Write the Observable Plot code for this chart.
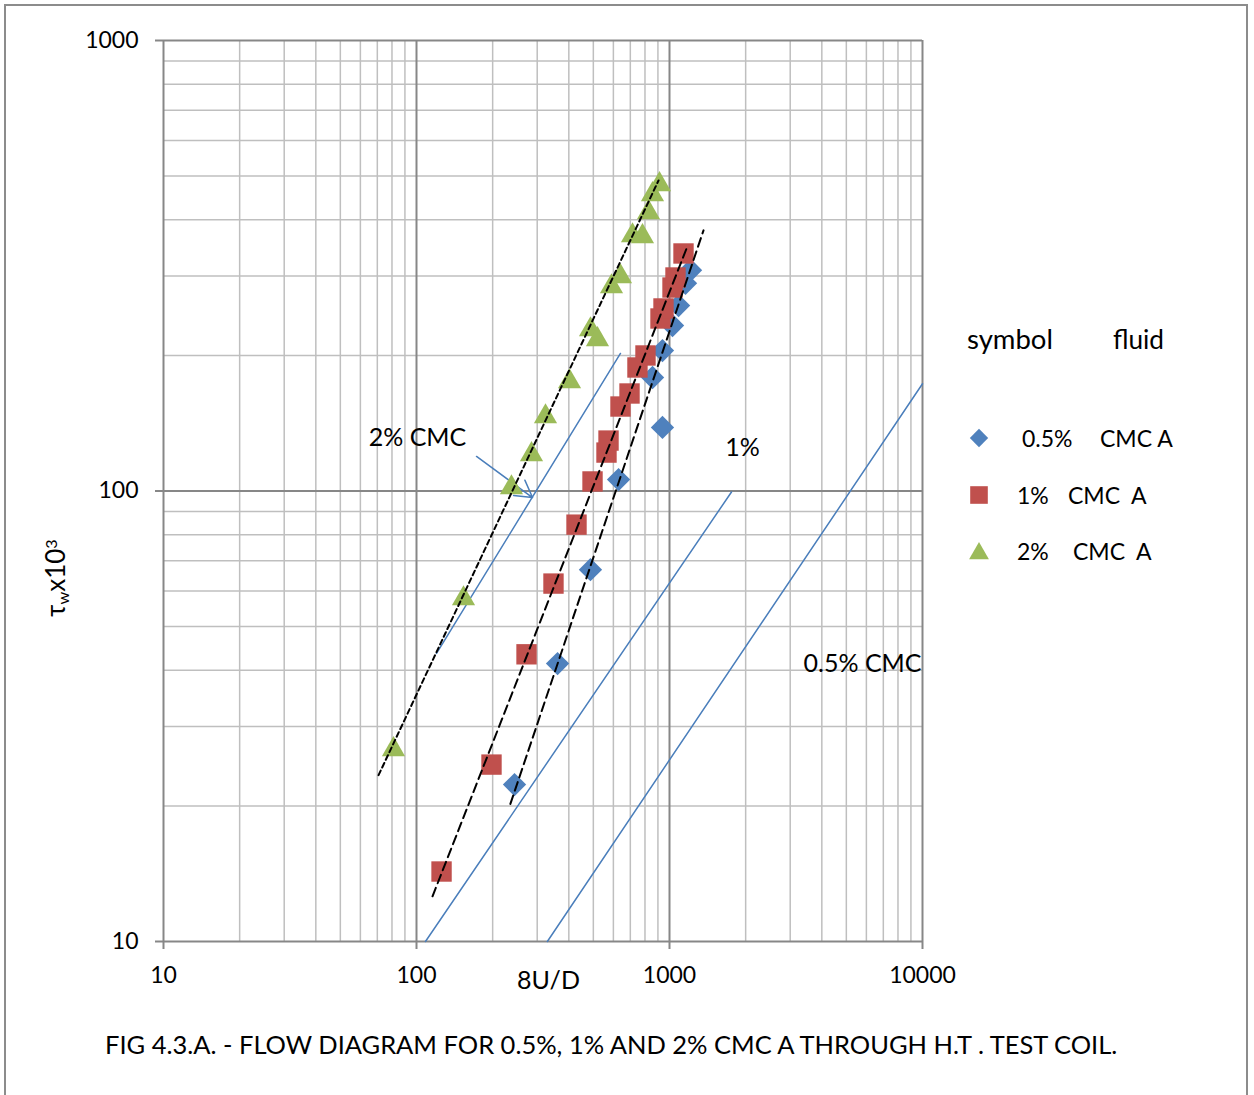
<!DOCTYPE html>
<html>
<head>
<meta charset="utf-8">
<script src="https://cdn.jsdelivr.net/npm/d3@7"></script>
<script src="https://cdn.jsdelivr.net/npm/@observablehq/plot@0.6"></script>
<style>
  body { margin: 0; background: #fff; font-family: Lato, "Open Sans", sans-serif; color: #000; }
  #wrap { position: relative; width: 1254px; height: 1095px; overflow: hidden; background: #fff; }
  #border { position: absolute; left: 4px; top: 4px; width: 1244px; height: 1200px; border: 2px solid #8c8c8c; box-sizing: border-box; }
  #chart { position: absolute; left: 0; top: 0; }
  .t { position: absolute; white-space: pre; line-height: 1; transform: translateY(-50%); }
  .ylab { position: absolute; left: 57px; top: 578px; white-space: pre; line-height: 1; font-size: 26px;
          transform: translate(-50%, -50%) rotate(-90deg); }
  .ylab sub { font-size: 0.62em; vertical-align: -0.25em; }
  .ylab sup { font-size: 0.62em; vertical-align: 0.55em; }
  .sym { position: absolute; }
</style>
</head>
<body>
<div id="wrap">
  <div id="border"></div>
  <div id="chart"></div>
</div>
<script>
// Flow curves in the H.T. test coil: wall shear stress (τw×10³) against 8U/D.

// 0.5% CMC A
const cmc05X = [244, 361, 487, 629, 857, 938, 938, 1028, 1086, 1157, 1211];
const cmc05Y = [22.3, 41.4, 66.9, 106, 178.6, 138.4, 205, 233, 258, 289, 309];

// 1% CMC A
const cmc1X = [125.6, 197.9, 272.2, 347.9, 429, 496.3, 563.6, 574.1, 640.2, 695, 747.1, 803.7, 921.4, 946.9, 1027.8, 1056.1, 1136];
const cmc1Y = [14.3, 24.7, 43.4, 62.3, 84.2, 105, 121.7, 129.4, 154, 164.6, 188, 199.9, 241.5, 254.2, 282.9, 297.8, 336.7];

// 2% CMC A
const cmc2X = [81.1, 153.4, 237.3, 284.8, 323.5, 402.6, 487.3, 519.2, 590, 640.2, 714, 782, 826, 856.6, 913];
const cmc2Y = [27.1, 58.6, 103.3, 122.4, 148.6, 177.7, 231.8, 220.3, 288.8, 303.9, 374.8, 372.9, 421.6, 462.2, 486.5];

// fitted power-law lines through each data set (end points)
const fit05X = [235, 1363], fit05Y = [20.2, 379];
const fit1X = [115.7, 1167], fit1Y = [12.6, 345];
const fit2X = [70.8, 905], fit2Y = [23.4, 489];

// reference flow curves (end points)
const ref2X = [120, 640], ref2Y = [43.6, 202];
const ref1X = [108.5, 1758], ref1Y = [10, 99.5];
const ref05X = [329, 10000], ref05Y = [10, 173];

// curve labels
const noteText = ["2% CMC", "1%", "0.5% CMC"];
const noteX = [100.9, 1944, 5794];
const noteY = [130.8, 124.3, 41.4];

// pointer from the "2% CMC" label to its curve
const arrowX1 = [172.7], arrowY1 = [119.3], arrowX2 = [287.4], arrowY2 = [96.7];

// axis ticks and grid
const xMajor = [10, 100, 1000, 10000];
const yMajor = [10, 100, 1000];
const xMinor = [20, 30, 40, 50, 60, 70, 80, 90, 200, 300, 400, 500, 600, 700, 800, 900, 2000, 3000, 4000, 5000, 6000, 7000, 8000, 9000];
const yMinor = [20, 30, 40, 50, 60, 70, 80, 90, 200, 300, 400, 500, 600, 700, 800, 900];

// legend
const legendLabels = ["0.5%", "1%", "2%"];

const BLUE = "#4f81bd", RED = "#c0504d", GREEN = "#9bbb59", LINE = "#4a7ebb";

const pts = (xs, ys) => xs.map((x, i) => ({x, y: ys[i]}));
const fmt = d3.format("d");

const chart = Plot.plot({
  width: 1254,
  height: 1095,
  marginLeft: 163,
  marginRight: 332,
  marginTop: 40,
  marginBottom: 154,
  x: {type: "log", domain: [10, 10000]},
  y: {type: "log", domain: [10, 1000]},
  style: {fontFamily: "Lato, sans-serif", fontSize: "22px", background: "transparent", overflow: "visible"},
  marks: [
    Plot.ruleX(xMinor, {stroke: "#bfbfbf", strokeWidth: 1.5}),
    Plot.ruleY(yMinor, {stroke: "#bfbfbf", strokeWidth: 1.5}),
    Plot.ruleX(xMajor, {stroke: "#878787", strokeWidth: 2}),
    Plot.ruleY(yMajor, {stroke: "#878787", strokeWidth: 2}),
    Plot.axisX({ticks: xMajor, tickFormat: fmt, tickSize: 8, tickPadding: 17, stroke: "#878787", strokeWidth: 2, fill: "#000", fontSize: 23, label: null}),
    Plot.axisY({ticks: yMajor, tickFormat: fmt, tickSize: 8, tickPadding: 17, stroke: "#878787", strokeWidth: 2, fill: "#000", fontSize: 23, label: null}),

    // reference curves
    Plot.line(pts(ref2X, ref2Y), {x: "x", y: "y", stroke: LINE, strokeWidth: 1.5}),
    Plot.line(pts(ref1X, ref1Y), {x: "x", y: "y", stroke: LINE, strokeWidth: 1.5}),
    Plot.line(pts(ref05X, ref05Y), {x: "x", y: "y", stroke: LINE, strokeWidth: 1.5}),
    Plot.arrow([0], {
      x1: () => arrowX1[0], y1: () => arrowY1[0], x2: () => arrowX2[0], y2: () => arrowY2[0],
      stroke: LINE, strokeWidth: 1.5, headAngle: 60, headLength: 19
    }),

    // measured points
    Plot.dot(pts(cmc05X, cmc05Y), {x: "x", y: "y", symbol: "diamond2", r: 10.5, fill: BLUE}),
    Plot.dot(pts(cmc1X, cmc1Y), {x: "x", y: "y", symbol: "square", r: 11.5, fill: RED}),
    Plot.dot(pts(cmc2X, cmc2Y), {x: "x", y: "y", symbol: "triangle", r: 8.6, dy: 3, fill: GREEN}),

    // fitted lines
    Plot.line(pts(fit2X, fit2Y), {x: "x", y: "y", stroke: "#000", strokeWidth: 2, strokeDasharray: "5,3.5"}),
    Plot.line(pts(fit1X, fit1Y), {x: "x", y: "y", stroke: "#000", strokeWidth: 2, strokeDasharray: "9,5"}),
    Plot.line(pts(fit05X, fit05Y), {x: "x", y: "y", stroke: "#000", strokeWidth: 2, strokeDasharray: "9,5"}),

    // curve labels
    Plot.text(noteText, {x: (d, i) => noteX[i], y: (d, i) => noteY[i], text: d => d, fontSize: 25, fill: "#000", textAnchor: "middle"})
  ]
});
document.getElementById("chart").appendChild(chart);

const wrap = document.getElementById("wrap");
function addText(str, left, cy, size, width) {
  const el = document.createElement("div");
  el.className = "t";
  el.textContent = str;
  el.style.left = left + "px";
  el.style.top = cy + "px";
  el.style.fontSize = size + "px";
  wrap.appendChild(el);
  if (width) {
    const w = el.getBoundingClientRect().width;
    el.style.fontSize = (size * width / w) + "px";
  }
  return el;
}

// axis titles
addText("8U/D", 517, 980, 24, 63);
const yl = document.createElement("div");
yl.className = "ylab";
yl.innerHTML = "τ<sub>w</sub>x10<sup>3</sup>";
wrap.appendChild(yl);

// caption
addText("FIG 4.3.A. - FLOW DIAGRAM FOR 0.5%, 1% AND 2% CMC A THROUGH H.T . TEST COIL.", 105, 1045, 23, 1013);

// legend
addText("symbol", 967, 339, 26, 86);
addText("fluid", 1113, 339, 26, 51);
const legendRows = [
  {label: legendLabels[0], lx: 1022, cx: 1100, cmc: "CMC A", cy: 438, symbol: d3.symbolDiamond2, color: BLUE, size: 215},
  {label: legendLabels[1], lx: 1017, cx: 1068, cmc: "CMC  A", cy: 495, symbol: d3.symbolSquare, color: RED, size: 310},
  {label: legendLabels[2], lx: 1017, cx: 1073, cmc: "CMC  A", cy: 551, symbol: d3.symbolTriangle, color: GREEN, size: 170}
];
for (const r of legendRows) {
  addText(r.label, r.lx, r.cy, 23);
  addText(r.cmc, r.cx, r.cy, 23);
  const s = d3.create("svg").attr("class", "sym").attr("width", 30).attr("height", 30)
    .style("left", (979 - 15) + "px").style("top", (r.cy - 15) + "px");
  s.append("path").attr("transform", "translate(15," + (r.symbol === d3.symbolTriangle ? 17.5 : 15) + ")")
    .attr("d", d3.symbol(r.symbol, r.size)()).attr("fill", r.color);
  wrap.appendChild(s.node());
}
</script>
</body>
</html>
